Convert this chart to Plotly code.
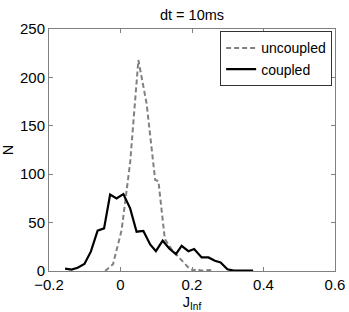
import plotly.graph_objects as go

# uncoupled (dashed gray)
unc_j = [-0.043, -0.021, 0.003, 0.027, 0.050, 0.073, 0.097, 0.106, 0.124, 0.144,
         0.166, 0.189, 0.203, 0.214, 0.225, 0.236, 0.248, 0.259]
unc_n = [0, 7, 42, 112, 218, 173, 94, 93, 33, 22, 13, 4, 0.5, 2, 0.5, 1, 1, 0]

# coupled (black solid)
cpl_j = [-0.155, -0.137, -0.120, -0.101, -0.083, -0.064, -0.046, -0.029, -0.011, 0.008,
         0.027, 0.045, 0.064, 0.083, 0.099, 0.118, 0.137, 0.155, 0.171, 0.190,
         0.206, 0.227, 0.246, 0.264, 0.280, 0.299, 0.317, 0.336, 0.355, 0.371]
cpl_n = [2.4, 1.4, 3.4, 7.2, 20, 41.7, 44, 79, 75, 79.5,
         64.7, 40.6, 41.3, 27.5, 20.5, 31.3, 23, 17.5, 26, 20.5,
         22.7, 14, 14, 10.5, 8.8, 1.7, 0.4, 0, 0.3, 0.3]

x_ticks = [-0.2, 0, 0.2, 0.4, 0.6]
x_tick_text = ["\u22120.2", "0", "0.2", "0.4", "0.6"]
y_ticks = [0, 50, 100, 150, 200, 250]

font = "Liberation Sans, Arial, Helvetica, sans-serif"

fig = go.Figure()
fig.add_trace(go.Scatter(x=unc_j, y=unc_n, mode="lines", name="uncoupled",
                         line=dict(color="#808080", width=2, dash="5px,3px")))
fig.add_trace(go.Scatter(x=cpl_j, y=cpl_n, mode="lines", name="coupled",
                         line=dict(color="black", width=2.2)))

axis_common = dict(showgrid=False, zeroline=False, showline=True, mirror="ticks",
                   linecolor="#808080", linewidth=1, ticks="inside", ticklen=4,
                   tickcolor="#808080", automargin=False,
                   tickfont=dict(size=15, color="black", family=font))

fig.update_layout(
    width=349, height=312,
    margin=dict(l=49, r=14, t=29, b=41),
    paper_bgcolor="white", plot_bgcolor="white",
    font=dict(family=font, color="black"),
    title=dict(text="dt = 10ms", x=(49 + 335) / 2 / 349, xanchor="center",
               y=1 - 15 / 312, yanchor="middle", font=dict(size=14.5, family=font)),
    xaxis=dict(range=[-0.2, 0.6], tickvals=x_ticks, ticktext=x_tick_text,
               title=dict(text="J<sub>Inf</sub>", font=dict(size=14.5), standoff=6),
               **axis_common),
    yaxis=dict(range=[0, 250], tickvals=y_ticks,
               title=dict(text="N", font=dict(size=14.5), standoff=2),
               **axis_common),
    legend=dict(x=0.99, y=0.99, xanchor="right", yanchor="top",
                bordercolor="#333333", borderwidth=1, bgcolor="white",
                font=dict(size=14, family=font), tracegroupgap=0,
                itemwidth=30),
    showlegend=True,
)

fig.write_html("out.html", config={"displayModeBar": False},
               post_script="document.body.style.margin='0';document.body.style.overflow='hidden';")
